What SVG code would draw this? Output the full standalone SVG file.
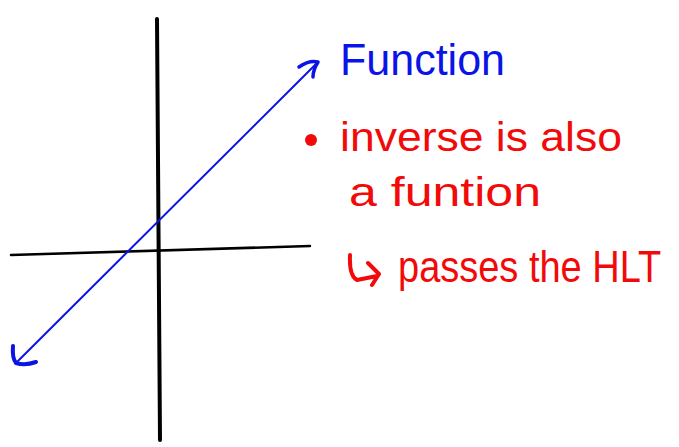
<svg xmlns="http://www.w3.org/2000/svg" width="679" height="447" viewBox="0 0 679 447">
<style>
.ax{stroke:#000;fill:none;stroke-linecap:round}
.bl{stroke:#0a14e6;fill:none;stroke-linecap:round;stroke-linejoin:round}
.rd{fill:#f20a0a;font-family:"Liberation Sans",Arial,sans-serif}
</style>
<rect width="679" height="447" fill="#fff"/>
<g id="axes">
<path class="ax" d="M157,19 L160,440" stroke-width="4"/>
<path class="ax" d="M11,255 L310,246" stroke-width="2.5"/>
</g>
<g id="line">
<path class="bl" d="M18,361 L316,64" stroke-width="2"/>
<path class="bl" d="M299,67 Q309,60 318,62 Q313,70 313,77" stroke-width="3.5"/>
<path class="bl" d="M13,346 Q12,358 16,363 Q25,366 36,362" stroke-width="4"/>
</g>
<g id="label-function">
<text x="340" y="75" font-family="'Liberation Sans',Arial,sans-serif" font-size="44" fill="#0a14e6" textLength="165" lengthAdjust="spacingAndGlyphs">Function</text>
</g>
<g id="notes">
<circle cx="311" cy="140" r="6" fill="#f20a0a"/>
<text class="rd" x="340" y="151" font-size="40" textLength="282" lengthAdjust="spacingAndGlyphs">inverse is also</text>
<text class="rd" x="349" y="206" font-size="40" textLength="192" lengthAdjust="spacingAndGlyphs">a funtion</text>
<path d="M350,255 Q349,276 357,280 L377,276 M368,263 L379,274 L372,285" fill="none" stroke="#f20a0a" stroke-width="4" stroke-linecap="round" stroke-linejoin="round"/>
<text class="rd" transform="translate(398,282) scale(1,1.16)" x="0" y="0" font-size="38">passes the HLT</text>
</g>
</svg>
